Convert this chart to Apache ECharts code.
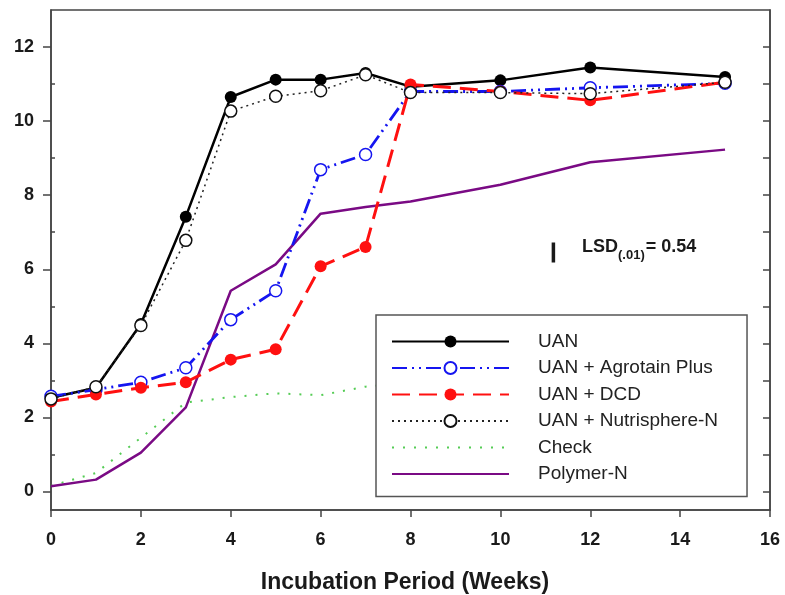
<!DOCTYPE html>
<html>
<head>
<meta charset="utf-8">
<script src="https://cdn.jsdelivr.net/npm/echarts@6/dist/echarts.min.js"></script>
<style>
  html, body { margin: 0; padding: 0; background: #fff; }
  #chart { width: 785px; height: 595px; }
</style>
</head>
<body>
<div id="chart"></div>
<script>
// ---- Data ----
var weeks = [0, 1, 2, 3, 4, 5, 6, 7, 8, 10, 12, 15];
var uan         = [2.53, 2.80, 4.52, 7.42, 10.65, 11.12, 11.12, 11.30, 10.93, 11.10, 11.45, 11.19];
var agrotain    = [2.57, 2.75, 2.95, 3.34, 4.64, 5.42, 8.69, 9.10, 10.80, 10.80, 10.90, 11.02];
var dcd         = [2.43, 2.62, 2.80, 2.95, 3.56, 3.84, 6.08, 6.60, 10.99, 10.80, 10.56, 11.05];
var nutrisphere = [2.50, 2.83, 4.48, 6.78, 10.27, 10.67, 10.82, 11.25, 10.77, 10.77, 10.74, 11.05];
var check       = [0.15, 0.50, 1.45, 2.40, 2.55, 2.65, 2.60, 2.83, 2.95, 3.05, 3.15, 3.30];
var polymer     = [0.14, 0.32, 1.05, 2.27, 5.42, 6.13, 7.50, 7.68, 7.83, 8.28, 8.89, 9.23];
var seriesNames = ['UAN', 'UAN + Agrotain Plus', 'UAN + DCD', 'UAN + Nutrisphere-N', 'Check', 'Polymer-N'];
var noMarkerNames = ['Check', 'Polymer-N'];
var lsdWeek = 11.18;
var lsdCenter = 6.45;
var lsdValue = 0.54;
var xTicks = [0, 2, 4, 6, 8, 10, 12, 14, 16];
var yMajorTicks = [0, 2, 4, 6, 8, 10, 12];
var yMinorTicks = [1, 3, 5, 7, 9, 11];
var yRightTicks = [0, 1, 2, 3, 4, 5, 6, 7, 8, 9, 10, 11, 12];

function pairs(ys) { return weeks.map(function (w, i) { return [w, ys[i]]; }); }

var FONT = "'Liberation Sans', Arial, Helvetica, sans-serif";
var AXIS_COLOR = '#444';
var Y_MIN = -0.5, Y_MAX = 13;

var chart = echarts.init(document.getElementById('chart'), null, { renderer: 'canvas' });

var hiddenLabel = { show: false };
var legendData = seriesNames.map(function (n) {
  return noMarkerNames.indexOf(n) >= 0 ? { name: n, itemStyle: { opacity: 0 } } : { name: n };
});

var option = {
  animation: false,
  backgroundColor: '#fff',
  grid: { left: 51, right: 15, top: 10, bottom: 85, show: true, borderColor: AXIS_COLOR, borderWidth: 1.5, backgroundColor: 'transparent' },
  xAxis: {
    type: 'value', min: 0, max: 16, interval: 2,
    axisLine: { show: true, onZero: false, lineStyle: { color: AXIS_COLOR, width: 1.5 } },
    axisTick: { show: true, inside: false, length: 7, lineStyle: { color: AXIS_COLOR, width: 1.5 } },
    axisLabel: { color: '#1a1a1a', fontFamily: FONT, fontWeight: 'bold', fontSize: 18, margin: 21 },
    splitLine: { show: false }
  },
  yAxis: [
    {
      type: 'value', min: Y_MIN, max: Y_MAX, position: 'left',
      axisLine: { show: true, onZero: false, lineStyle: { color: AXIS_COLOR, width: 1.5 } },
      axisTick: { show: true, inside: false, length: 8, customValues: yMajorTicks, lineStyle: { color: AXIS_COLOR, width: 1.5 } },
      axisLabel: { customValues: yMajorTicks, color: '#1a1a1a', fontFamily: FONT, fontWeight: 'bold', fontSize: 18, margin: 17 },
      splitLine: { show: false }
    },
    {
      type: 'value', min: Y_MIN, max: Y_MAX, position: 'left', offset: 0,
      axisLine: { show: false },
      axisTick: { show: true, inside: true, length: 4, customValues: yMinorTicks, lineStyle: { color: AXIS_COLOR, width: 1.5 } },
      axisLabel: hiddenLabel,
      splitLine: { show: false }
    },
    {
      type: 'value', min: Y_MIN, max: Y_MAX, position: 'right', offset: 0,
      axisLine: { show: true, onZero: false, lineStyle: { color: AXIS_COLOR, width: 1.5 } },
      axisTick: { show: true, inside: true, length: 7, customValues: yRightTicks, lineStyle: { color: AXIS_COLOR, width: 1.5 } },
      axisLabel: hiddenLabel,
      splitLine: { show: false }
    }
  ],
  legend: {
    data: legendData,
    orient: 'vertical',
    left: 376, top: 315,
    padding: [17, 29, 13, 15],
    itemWidth: 117, itemHeight: 15, itemGap: 7.5,
    backgroundColor: '#fff',
    borderColor: '#555', borderWidth: 1.5, borderRadius: 0,
    selectedMode: false,
    textStyle: { color: '#222', fontFamily: FONT, fontSize: 19, lineHeight: 19, padding: [0, 0, 0, 24] }
  },
  series: [
    {
      name: 'Check', type: 'line', data: pairs(check), symbol: 'none', z: 2,
      lineStyle: { color: '#55cc55', width: 2, type: [2, 9] },
      itemStyle: { color: '#55cc55' }
    },
    {
      name: 'Polymer-N', type: 'line', data: pairs(polymer), symbol: 'none', z: 3,
      lineStyle: { color: '#7a0a84', width: 2.5, type: 'solid' },
      itemStyle: { color: '#7a0a84' }
    },
    {
      name: 'UAN', type: 'line', data: pairs(uan), symbol: 'circle', symbolSize: 12, z: 4,
      lineStyle: { color: '#000', width: 2.5, type: 'solid' },
      itemStyle: { color: '#000' }
    },
    {
      name: 'UAN + Agrotain Plus', type: 'line', data: pairs(agrotain), symbol: 'circle', symbolSize: 12, z: 5,
      lineStyle: { color: '#1515f0', width: 2.8, type: [15, 5, 2, 5, 2, 5] },
      itemStyle: { color: '#fff', borderColor: '#1515f0', borderWidth: 1.5 }
    },
    {
      name: 'UAN + DCD', type: 'line', data: pairs(dcd), symbol: 'circle', symbolSize: 12, z: 6,
      lineStyle: { color: '#ff1010', width: 3, type: [18, 9] },
      itemStyle: { color: '#ff1010' }
    },
    {
      name: 'UAN + Nutrisphere-N', type: 'line', data: pairs(nutrisphere), symbol: 'circle', symbolSize: 12, z: 7,
      lineStyle: { color: '#222', width: 1.5, type: [2, 4] },
      itemStyle: { color: '#fff', borderColor: '#111', borderWidth: 1.5 }
    },
    {
      name: 'LSD', type: 'line', symbol: 'none', z: 8, silent: true,
      data: [[lsdWeek, lsdCenter - lsdValue / 2], [lsdWeek, lsdCenter + lsdValue / 2]],
      lineStyle: { color: '#1a1a1a', width: 3.5 }
    }
  ],
  graphic: [
    {
      type: 'text', left: 582, top: 238, z: 10,
      style: {
        text: '{a|LSD}{b|(.01)}{a|= 0.54}',
        fontFamily: FONT,
        rich: {
          a: { fontFamily: FONT, fontSize: 18, fontWeight: 'bold', fill: '#1a1a1a', verticalAlign: 'bottom', lineHeight: 20 },
          b: { fontFamily: FONT, fontSize: 13, fontWeight: 'bold', fill: '#1a1a1a', verticalAlign: 'bottom', lineHeight: 10, padding: [0, 1, -6, 0] }
        }
      }
    },
    {
      type: 'text', x: 405, y: 583, z: 10,
      style: {
        text: 'Incubation Period (Weeks)', fontFamily: FONT, fontSize: 23, fontWeight: 'bold',
        fill: '#1a1a1a', align: 'center', verticalAlign: 'middle'
      }
    }
  ]
};
chart.setOption(option);
</script>
</body>
</html>
